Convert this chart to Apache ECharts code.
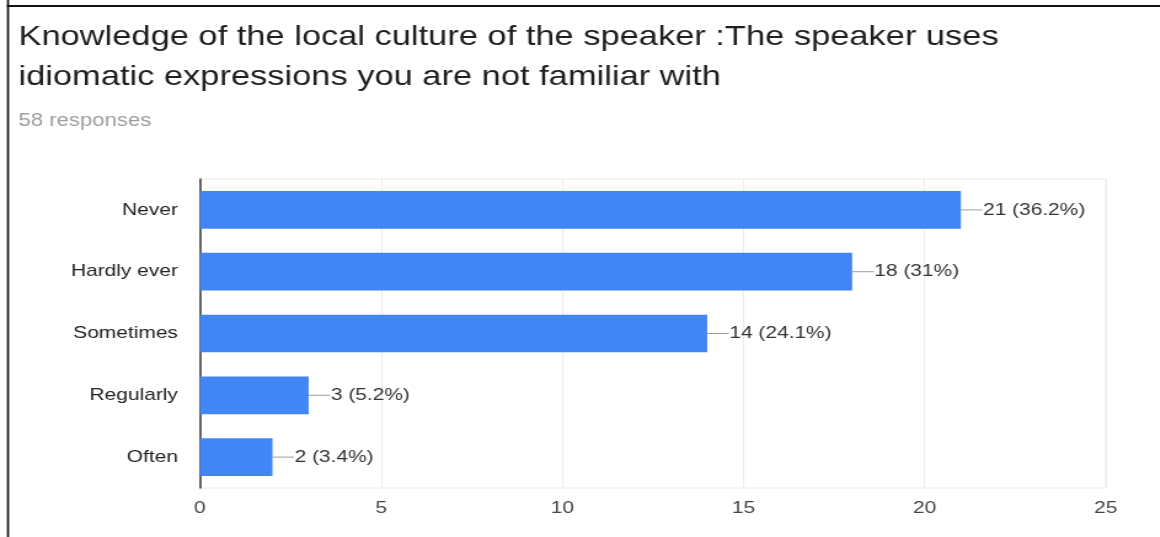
<!DOCTYPE html>
<html>
<head>
<meta charset="utf-8">
<script src="https://cdn.jsdelivr.net/npm/echarts@6/dist/echarts.min.js"></script>
<style>
  html, body { margin: 0; padding: 0; background: #fff; overflow: hidden; }
  /* the chart is laid out on a narrower canvas and widened to the full page width */
  #chart { width: 943px; height: 537px; transform: scaleX(1.23); transform-origin: 0 0; }
</style>
</head>
<body>
<div id="chart"></div>
<script>
// Survey answers, top to bottom as they appear on the axis
const categories = ['Never', 'Hardly ever', 'Sometimes', 'Regularly', 'Often'];
const counts = [21, 18, 14, 3, 2];
const responses = 58;
const xTicks = { min: 0, max: 25, interval: 5 };

const titleText = 'Knowledge of the local culture of the speaker :The speaker uses\nidiomatic expressions you are not familiar with';
const subtitleText = responses + ' responses';

function pctLabel(v) {
  let p = (v / responses * 100).toFixed(1);
  if (p.endsWith('.0')) p = p.slice(0, -2);
  return v + ' (' + p + '%)';
}

const chart = echarts.init(document.getElementById('chart'), null, { renderer: 'canvas' });
chart.setOption({
  animation: false,
  backgroundColor: '#fff',
  textStyle: { fontFamily: 'Liberation Sans, Arial, sans-serif' },
  graphic: [
    { type: 'line', shape: { x1: 6.5, y1: 0, x2: 6.5, y2: 537 }, style: { stroke: '#111', lineWidth: 1.7 } },
    { type: 'line', shape: { x1: 5.6, y1: 6, x2: 943, y2: 6 }, style: { stroke: '#111', lineWidth: 2 } }
  ],
  title: [
    {
      text: titleText, left: 10, top: 12,
      textStyle: { fontSize: 28, fontWeight: 'normal', color: '#1f1f1f', lineHeight: 40, fontFamily: 'Liberation Sans' }
    },
    {
      text: subtitleText, left: 10, top: 107,
      textStyle: { fontSize: 18, fontWeight: 'normal', color: '#9e9e9e', fontFamily: 'Liberation Sans' }
    }
  ],
  grid: {
    left: 162.6, right: 44, top: 179, bottom: 49,
    show: true, borderColor: '#ececec', borderWidth: 1, backgroundColor: 'transparent'
  },
  xAxis: {
    type: 'value', min: xTicks.min, max: xTicks.max, interval: xTicks.interval,
    axisLine: { show: false }, axisTick: { show: false },
    splitLine: { lineStyle: { color: '#ececec', width: 1 } },
    axisLabel: { color: '#444', fontSize: 17, margin: 12 }
  },
  yAxis: {
    type: 'category', data: categories, inverse: true,
    axisLine: { show: true, lineStyle: { color: '#333', width: 1.5 } },
    axisTick: { show: false },
    axisLabel: { color: '#222', fontSize: 17, margin: 18 }
  },
  series: [{
    type: 'bar',
    data: counts,
    barWidth: '61%',
    itemStyle: { color: '#4285f4' },
    label: {
      show: true, position: 'right', distance: 0,
      formatter: p => '{line|}{v|' + pctLabel(p.value) + '}',
      rich: {
        line: { width: 17.5, height: 1, backgroundColor: '#9e9e9e', verticalAlign: 'middle' },
        v: { fontSize: 17, color: '#333', padding: [0, 0, 0, 0.5] }
      }
    }
  }]
});
</script>
</body>
</html>
